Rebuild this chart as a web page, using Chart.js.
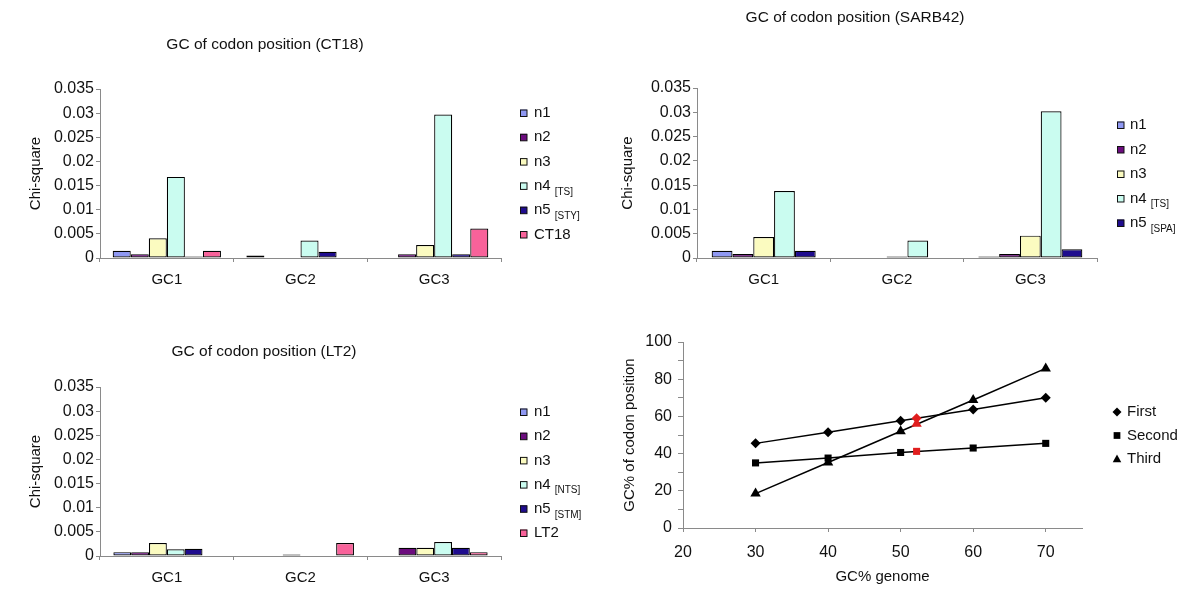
<!DOCTYPE html>
<html><head><meta charset="utf-8">
<script src="https://cdn.jsdelivr.net/npm/chart.js@4.4.1/dist/chart.umd.min.js"></script>
<style>
html,body{margin:0;padding:0;background:#fff;width:1200px;height:600px;overflow:hidden}
canvas{position:absolute}
</style></head><body>
<canvas id="c1" width="600" height="300" style="left:0px;top:0px;width:600px;height:300px"></canvas>
<canvas id="c2" width="600" height="300" style="left:600px;top:0px;width:600px;height:300px"></canvas>
<canvas id="c3" width="600" height="300" style="left:0px;top:300px;width:600px;height:300px"></canvas>
<canvas id="c4" width="600" height="300" style="left:600px;top:300px;width:600px;height:300px"></canvas>
<script>
// ---------- data ----------
const categories = ['GC1', 'GC2', 'GC3'];
const yTickLabels = ['0', '0.005', '0.01', '0.015', '0.02', '0.025', '0.03', '0.035'];

// CT18 panel
const ct18Names = ['n1', 'n2', 'n3', 'n4', 'n5', 'CT18'];
const ct18Subs  = ['', '', '', '[TS]', '[STY]', ''];
const ct18_n1 = [0.0015, 0.0005, 0];
const ct18_n2 = [0.0008, 0, 0.0008];
const ct18_n3 = [0.0041, 0, 0.0027];
const ct18_n4 = [0.0168, 0.0036, 0.0297];
const ct18_n5 = [0.0003, 0.0013, 0.0008];
const ct18_ct = [0.0015, 0, 0.0061];

// SARB42 panel
const sarbNames = ['n1', 'n2', 'n3', 'n4', 'n5'];
const sarbSubs  = ['', '', '', '[TS]', '[SPA]'];
const sarb_n1 = [0.0015, 0, 0.0003];
const sarb_n2 = [0.0008, 0, 0.0008];
const sarb_n3 = [0.0043, 0.0003, 0.0046];
const sarb_n4 = [0.0138, 0.0036, 0.0302];
const sarb_n5 = [0.0015, 0, 0.0018];

// LT2 panel
const lt2Names = ['n1', 'n2', 'n3', 'n4', 'n5', 'LT2'];
const lt2Subs  = ['', '', '', '[NTS]', '[STM]', ''];
const lt2_n1 = [0.0008, 0, 0];
const lt2_n2 = [0.0008, 0, 0.0017];
const lt2_n3 = [0.0027, 0.0003, 0.0017];
const lt2_n4 = [0.0014, 0, 0.0029];
const lt2_n5 = [0.0015, 0, 0.0017];
const lt2_lt = [0, 0.0027, 0.0008];

// GC% line panel
const gcGenome = [30, 40, 50, 60, 70];
const gcFirst  = [45.5, 51.5, 57.6, 63.7, 70];
const gcSecond = [35, 37.6, 40.6, 43, 45.5];
const gcThird  = [18.5, 35.2, 52, 68.8, 85.8];
const lineNames = ['First', 'Second', 'Third'];
const redX = [52.2, 52.2, 52.2];
const redY = [59, 56, 41.2];

// ---------- style ----------
const FONT = "'Liberation Sans', Arial, sans-serif";
const TXT = '#111';
const AXIS = '#8a8a8a';
const barColors = ['#8f98f2', '#6c0c7e', '#fbfbc0', '#cafcf0', '#1f0c8e', '#f8629a'];
const lineStyles = ['rectRot', 'rect', 'triangle'];

function drawMarker(ctx, style, x, y, r) {
  ctx.beginPath();
  if (style === 'rectRot') {
    ctx.moveTo(x, y - r); ctx.lineTo(x + r, y); ctx.lineTo(x, y + r); ctx.lineTo(x - r, y);
  } else if (style === 'rect') {
    ctx.rect(x - r * 0.75, y - r * 0.75, r * 1.5, r * 1.5);
  } else {
    ctx.moveTo(x, y - r); ctx.lineTo(x + r * 0.95, y + r * 0.7); ctx.lineTo(x - r * 0.95, y + r * 0.7);
  }
  ctx.closePath();
  ctx.fill();
}

const decor = {
  id: 'decor',
  afterDraw(chart, args, o) {
    const ctx = chart.ctx;
    ctx.save();
    ctx.fillStyle = TXT;
    if (o.title) {
      ctx.font = `15.5px ${FONT}`;
      ctx.textAlign = 'center';
      ctx.textBaseline = 'middle';
      ctx.fillText(o.title, o.titleX, o.titleY);
    }
    if (o.legend) {
      const L = o.legend;
      let row = 0;
      chart.data.datasets.forEach((ds) => {
        if (ds.hideInLegend) return;
        const y = L.y0 + row * L.gap;
        row++;
        if (L.kind === 'bar') {
          ctx.fillStyle = ds.backgroundColor;
          ctx.fillRect(L.boxX, y - 3.5, 7, 7);
          ctx.strokeStyle = '#111';
          ctx.lineWidth = 1;
          ctx.strokeRect(L.boxX + 0.5, y - 3, 6.5, 6.5);
        } else {
          ctx.fillStyle = '#000';
          drawMarker(ctx, ds.pointStyle, L.boxX, y, 4.5);
        }
        ctx.fillStyle = TXT;
        ctx.textAlign = 'left';
        ctx.textBaseline = 'middle';
        ctx.font = `15px ${FONT}`;
        ctx.fillText(ds.label, L.textX, y);
        if (ds.sub) {
          const w = ctx.measureText(ds.label).width;
          ctx.font = `10px ${FONT}`;
          ctx.fillText(ds.sub, L.textX + w + 4, y + 6);
        }
      });
    }
    ctx.restore();
  }
};

function barChart(id, cfg) {
  return new Chart(document.getElementById(id), {
    type: 'bar',
    data: {
      labels: categories,
      datasets: cfg.series.map((vals, i) => ({
        label: cfg.names[i], sub: cfg.subs[i], data: vals,
        backgroundColor: barColors[cfg.colorIdx[i]], borderColor: '#000',
        borderWidth: 1.2, borderSkipped: false,
        categoryPercentage: cfg.catPct, barPercentage: 1
      }))
    },
    options: {
      responsive: false, animation: false, devicePixelRatio: 1,
      layout: { padding: { left: 0, right: cfg.padR, top: cfg.padT, bottom: 0 } },
      plugins: {
        legend: { display: false }, tooltip: { enabled: false },
        decor: { title: cfg.title, titleX: cfg.titleX, titleY: cfg.titleY, legend: cfg.legend }
      },
      scales: {
        x: {
          grid: { drawOnChartArea: false, color: AXIS, tickLength: 4, offset: true },
          border: { color: AXIS },
          ticks: { font: { family: FONT, size: 15 }, color: TXT, padding: 9, maxRotation: 0 },
          afterFit(s) { s.height = cfg.xH; }
        },
        y: {
          min: 0, max: 0.035,
          ticks: { stepSize: 0.005, callback: (v, i) => yTickLabels[i], font: { family: FONT, size: 16 }, color: TXT, padding: 2 },
          grid: { drawOnChartArea: false, color: AXIS, tickLength: 4 },
          border: { color: AXIS },
          title: { display: true, text: 'Chi-square', font: { family: FONT, size: 15 }, color: TXT, padding: { top: cfg.yTitlePad, bottom: 0 } },
          afterFit(s) { s.width = cfg.yW; }
        }
      }
    },
    plugins: [decor]
  });
}

barChart('c1', {
  series: [ct18_n1, ct18_n2, ct18_n3, ct18_n4, ct18_n5, ct18_ct],
  names: ct18Names, subs: ct18Subs, colorIdx: [0, 1, 2, 3, 4, 5], catPct: 0.81,
  padR: 99, padT: 89, xH: 42, yW: 100, yTitlePad: 27,
  title: 'GC of codon position (CT18)', titleX: 265, titleY: 45,
  legend: { kind: 'bar', boxX: 520, textX: 534, y0: 113, gap: 24.3 }
});

barChart('c2', {
  series: [sarb_n1, sarb_n2, sarb_n3, sarb_n4, sarb_n5],
  names: sarbNames, subs: sarbSubs, colorIdx: [0, 1, 2, 3, 4], catPct: 0.78,
  padR: 103, padT: 88, xH: 42, yW: 97, yTitlePad: 19,
  title: 'GC of codon position (SARB42)', titleX: 255, titleY: 18,
  legend: { kind: 'bar', boxX: 517, textX: 530, y0: 125, gap: 24.5 }
});

barChart('c3', {
  series: [lt2_n1, lt2_n2, lt2_n3, lt2_n4, lt2_n5, lt2_lt],
  names: lt2Names, subs: lt2Subs, colorIdx: [0, 1, 2, 3, 4, 5], catPct: 0.8,
  padR: 99, padT: 87, xH: 44, yW: 100, yTitlePad: 27,
  title: 'GC of codon position (LT2)', titleX: 264, titleY: 52,
  legend: { kind: 'bar', boxX: 520, textX: 534, y0: 112, gap: 24.2 }
});

// line chart
const pts = (ys) => gcGenome.map((x, i) => ({ x, y: ys[i] }));
new Chart(document.getElementById('c4'), {
  type: 'scatter',
  data: {
    datasets: [
      {
        label: 'GC% genome (red)', hideInLegend: true,
        data: redX.map((x, i) => ({ x, y: redY[i] })),
        showLine: false, pointStyle: ['rectRot', 'triangle', 'rect'],
        pointRadius: [5, 6, 5], backgroundColor: '#e01e1e', borderColor: '#e01e1e', borderWidth: 0
      },
      ...[gcFirst, gcSecond, gcThird].map((ys, i) => ({
        label: lineNames[i], data: pts(ys), showLine: true,
        borderColor: '#000', borderWidth: 1.5,
        pointStyle: lineStyles[i], pointRadius: [5, 5, 6][i],
        pointBackgroundColor: '#000', pointBorderColor: '#000', pointBorderWidth: 0
      }))
    ]
  },
  options: {
    responsive: false, animation: false, devicePixelRatio: 1,
    layout: { padding: { left: 0, right: 118, top: 42, bottom: 0 } },
    plugins: {
      legend: { display: false }, tooltip: { enabled: false },
      decor: { legend: { kind: 'line', boxX: 517, textX: 527, y0: 112, gap: 23.5 } }
    },
    scales: {
      x: {
        type: 'linear', min: 20, max: 75,
        ticks: { stepSize: 10, includeBounds: false, font: { family: FONT, size: 16 }, color: TXT, padding: 11 },
        grid: { drawOnChartArea: false, color: AXIS, tickLength: 4 },
        border: { color: AXIS },
        title: { display: true, text: 'GC% genome', font: { family: FONT, size: 15 }, color: TXT, padding: { top: 0, bottom: 14 } },
        afterFit(s) { s.height = 72; }
      },
      y: {
        min: 0, max: 100,
        ticks: { stepSize: 10, autoSkip: false, callback: (v) => (v % 20 === 0 ? String(v) : ''), font: { family: FONT, size: 16 }, color: TXT, padding: 6 },
        grid: { drawOnChartArea: false, color: AXIS, tickLength: 5 },
        border: { color: AXIS },
        title: { display: true, text: 'GC% of codon position', font: { family: FONT, size: 15 }, color: TXT, padding: { top: 21, bottom: 0 } },
        afterFit(s) { s.width = 83; }
      }
    }
  },
  plugins: [decor]
});
</script>
</body></html>
